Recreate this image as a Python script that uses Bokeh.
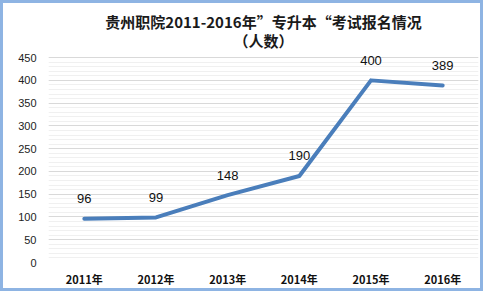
from bokeh.plotting import figure
from bokeh.models import Title, FixedTicker, ColumnDataSource
from bokeh.core.properties import value
from bokeh.embed import file_html
from bokeh.resources import INLINE

years = ["2011年", "2012年", "2013年", "2014年", "2015年", "2016年"]
counts = [96, 99, 148, 190, 400, 389]
labels = [str(c) for c in counts]
y_ticks = [0, 50, 100, 150, 200, 250, 300, 350, 400, 450]
title_line1 = "贵州职院2011-2016年\u201d专升本\u201c考试报名情况"
title_line2 = "（人数）"

src = ColumnDataSource(dict(x=years, y=counts, t=labels))

p = figure(width=483, height=291, x_range=years, y_range=(0, 470),
           output_backend="svg", toolbar_location=None,
           min_border_left=48, min_border_right=5, min_border_bottom=29,
           min_border_top=48)
p.stylesheets = [":host { position: relative; } "
                 ":host::after { content: ''; position: absolute; left: 0; top: 0; "
                 "right: 0; bottom: 0; border: 3px solid #8EB4E3; "
                 "pointer-events: none; z-index: 1000; }"]
p.background_fill_color = "white"
p.border_fill_color = "white"
p.outline_line_color = None

p.add_layout(Title(text=title_line2, align="center", text_font_size="15px",
                   text_font="Noto Sans CJK SC", text_font_style="bold",
                   text_color="#1a1a1a", standoff=-4, offset=4), "above")
p.add_layout(Title(text=title_line1, align="center", text_font_size="15px",
                   text_font="Noto Sans CJK SC", text_font_style="bold",
                   text_color="#1a1a1a", standoff=-4, offset=7), "above")

p.xgrid.grid_line_color = None
p.yaxis.ticker = FixedTicker(ticks=y_ticks, minor_ticks=list(range(0, 451, 10)))
p.ygrid.grid_line_color = "#D9D9D9"
p.ygrid.minor_grid_line_color = "#F0F0F0"

for ax in (p.xaxis, p.yaxis):
    ax.axis_line_color = None
    ax.major_tick_line_color = None
    ax.minor_tick_line_color = None

p.yaxis.major_label_text_font = "Liberation Sans"
p.yaxis.major_label_text_font_size = "11px"
p.yaxis.major_label_text_color = "#222222"
p.yaxis.major_label_standoff = 6

p.xaxis.major_label_text_font = "Noto Sans CJK SC"
p.xaxis.major_label_text_font_style = "bold"
p.xaxis.major_label_text_font_size = "11px"
p.xaxis.major_label_text_color = "#111111"
p.xaxis.major_label_standoff = 2

p.line("x", "y", source=src, line_color="#4A7EBB", line_width=4,
       line_join="round", line_cap="round")
p.text("x", "y", text="t", source=src, text_align="center",
       text_baseline="middle", y_offset=-20, text_font_size="13px",
       text_font=value("Liberation Sans"), text_color="#111111")

open("out.html", "w").write(file_html(p, INLINE))
